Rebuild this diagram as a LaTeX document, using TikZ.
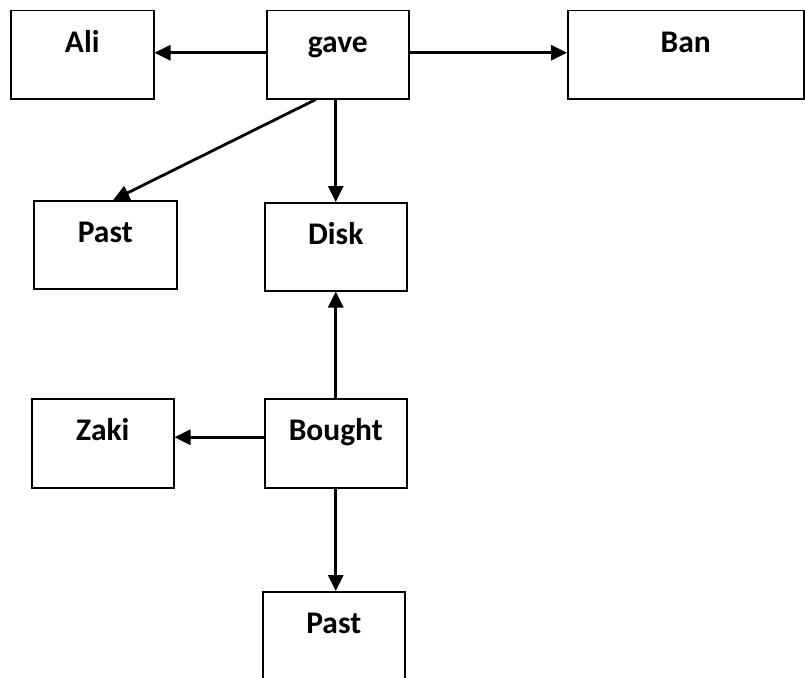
\documentclass[tikz,border=0pt]{standalone}
\usepackage{fontspec}
\setmainfont{Carlito}
\usetikzlibrary{arrows.meta,calc}
\begin{document}
\begin{tikzpicture}[x=1pt,y=-1pt,
  box/.style={draw=black,line width=1.5pt,rectangle,anchor=north west,inner sep=0pt,
    text height=42pt,text depth=46pt,align=center,
    font=\bfseries\fontsize{31.5}{36}\selectfont},
  conn/.style={line width=2.8pt,-{Triangle[length=16pt,width=15pt]}}]
\clip (0,0) rectangle (805,677);
\fill[white] (0,0) rectangle (805,677);
\node[box,text width=143pt] (ali) at (10,10) {Ali};
\node[box,text width=142pt] (gave) at (266,10) {gave};
\node[box,text width=236pt] (ban) at (567,10) {Ban};
\node[box,text width=143pt] (pastA) at (33,200) {Past};
\node[box,text width=142pt] (disk) at (264,202) {Disk};
\node[box,text width=142pt,text depth=47pt] (zaki) at (31,398) {Zaki};
\node[box,text width=142pt,text depth=47pt] (bought) at (264,398) {Bought};
\node[box,text width=142pt] (pastB) at (262,591) {Past};
\draw[conn] ($(gave.west)+(0,-2)$) -- ($(ali.east)+(0,-2)$);
\draw[conn] ($(gave.east)+(0,-2)$) -- ($(ban.west)+(0,-2)$);
\draw[conn] ($(gave.south)+(-22,0)$) -- ($(pastA.north)+(8,0)$);
\draw[conn] (gave.south -| disk.north) -- (disk.north);
\draw[conn] (bought.north) -- (disk.south);
\draw[conn] ($(bought.west)+(0,-6)$) -- ($(zaki.east)+(0,-6)$);
\draw[conn] (bought.south) -- (bought.south |- pastB.north);
\end{tikzpicture}
\end{document}
